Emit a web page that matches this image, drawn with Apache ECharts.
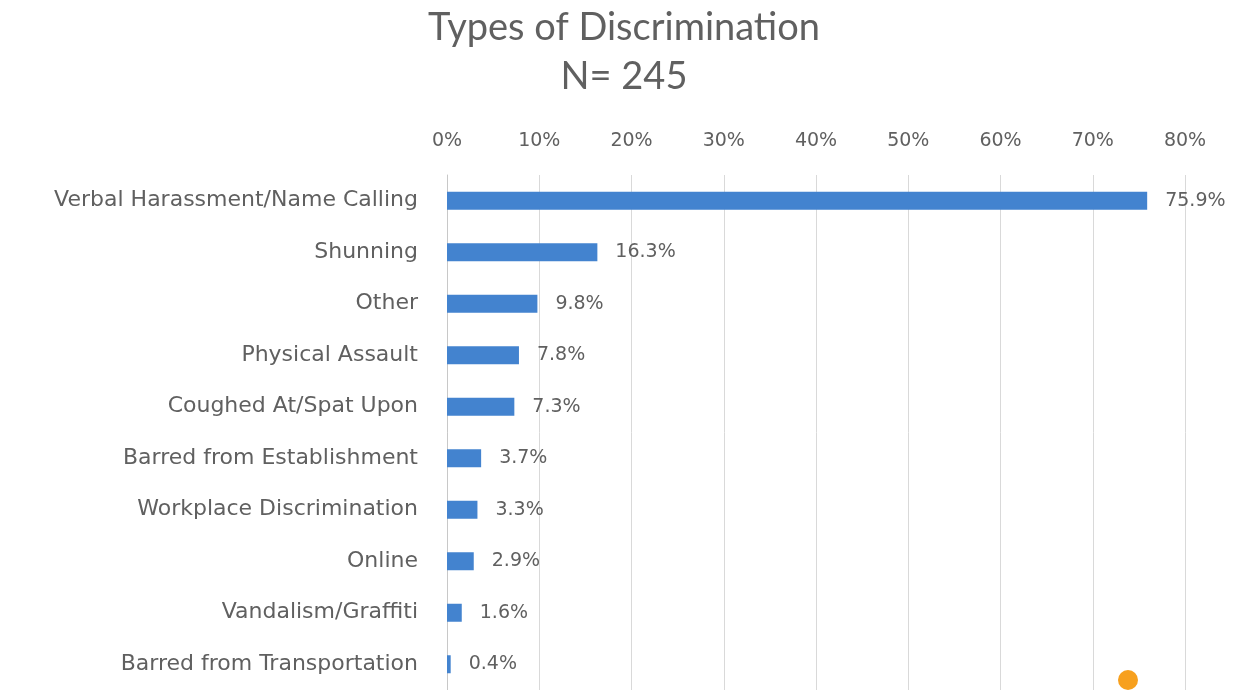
<!DOCTYPE html>
<html>
<head>
<meta charset="utf-8">
<script src="https://cdn.jsdelivr.net/npm/echarts@6/dist/echarts.min.js"></script>
<style>
  html, body { margin: 0; padding: 0; background: #fff; }
  #main { width: 1248px; height: 690px; }
</style>
</head>
<body>
<div id="main"></div>
<script>
var categories = ['Verbal Harassment/Name Calling', 'Shunning', 'Other', 'Physical Assault',
    'Coughed At/Spat Upon', 'Barred from Establishment', 'Workplace Discrimination',
    'Online', 'Vandalism/Graffiti', 'Barred from Transportation'];
var values = [75.9, 16.3, 9.8, 7.8, 7.3, 3.7, 3.3, 2.9, 1.6, 0.4];
var tickMax = 80, tickStep = 10;

var myChart = echarts.init(document.getElementById('main'));

var titleFont = 'Lato, "Open Sans", sans-serif';
var font = '"DejaVu Sans", sans-serif';
var textColor = '#606060';
var option = {
    backgroundColor: '#fff',
    title: {
        text: 'Types of Discrimination\nN= 245',
        left: 'center',
        top: -2,
        textStyle: {
            color: textColor,
            fontFamily: titleFont,
            fontWeight: 'normal',
            fontSize: 38,
            lineHeight: 49
        }
    },
    grid: { left: 447, right: 63, top: 175, bottom: -3 },
    xAxis: {
        type: 'value',
        position: 'top',
        min: 0,
        max: tickMax,
        interval: tickStep,
        axisLine: { show: false },
        axisTick: { show: false },
        splitLine: { lineStyle: { color: '#d9d9d9', width: 1 } },
        axisLabel: {
            formatter: '{value}%',
            color: textColor,
            fontFamily: font,
            fontSize: 19,
            margin: 24
        }
    },
    yAxis: {
        type: 'category',
        data: categories,
        inverse: true,
        axisLine: { show: true, lineStyle: { color: '#c8c8c8' } },
        axisTick: { show: false },
        axisLabel: {
            color: textColor,
            fontFamily: font,
            fontSize: 22,
            margin: 29
        }
    },
    series: [{
        type: 'bar',
        data: values,
        barWidth: 18,
        itemStyle: { color: '#4383cf' },
        label: {
            show: true,
            position: 'right',
            distance: 18,
            formatter: '{c}%',
            color: textColor,
            fontFamily: font,
            fontSize: 19
        }
    }],
    graphic: [{
        type: 'circle',
        shape: { cx: 1128, cy: 680, r: 10 },
        style: { fill: '#f7a01e' }
    }]
};

myChart.setOption(option);
</script>
</body>
</html>
